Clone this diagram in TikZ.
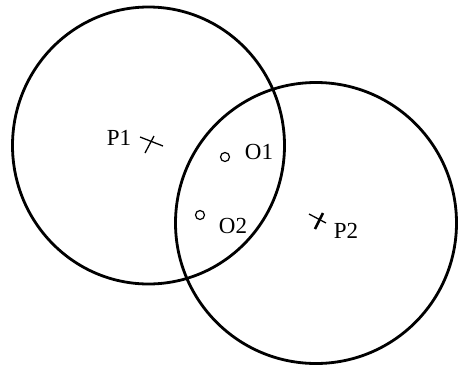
\documentclass[tikz,border=0pt]{standalone}
\usepackage{fontspec}
\setmainfont{Liberation Serif}
\usetikzlibrary{shapes.geometric}
\begin{document}
\begin{tikzpicture}[x=1pt,y=-1pt,
  ring/.style={draw=black,line width=2.8pt,ellipse,inner sep=0pt},
  lbl/.style={font=\fontsize{23}{23}\selectfont,inner sep=0pt},
  mark1/.style={draw=black,line width=1.3pt},
  pt/.style={draw=black,line width=1.2pt,circle,minimum size=9pt,inner sep=0pt}]
\useasboundingbox (0,0) rectangle (458,373);
\fill[white] (0,0) rectangle (458,373);
\node[ring,minimum width=272pt,minimum height=277pt] (c1) at (148.5,145.5) {};
\node[ring,minimum width=281pt,minimum height=281pt] (c2) at (316,223) {};
% P1 cross
\coordinate (p1) at (151,144);
\draw[mark1] (140,137) -- (163,146);
\draw[mark1] (154,136) -- (145,153);
\node[lbl] (lp1) at (119,138) {P1};
% P2 cross
\coordinate (p2) at (318,221);
\draw[mark1] (309,214) -- (326,223);
\draw[line width=2.5pt] (323,213) -- (315,229);
\node[lbl] (lp2) at (346,231) {P2};
% O1, O2
\node[pt] (o1) at (225,157) {};
\node[lbl] (lo1) at (259,152) {O1};
\node[pt] (o2) at (200,215) {};
\node[lbl] (lo2) at (233,226) {O2};
\end{tikzpicture}
\end{document}
